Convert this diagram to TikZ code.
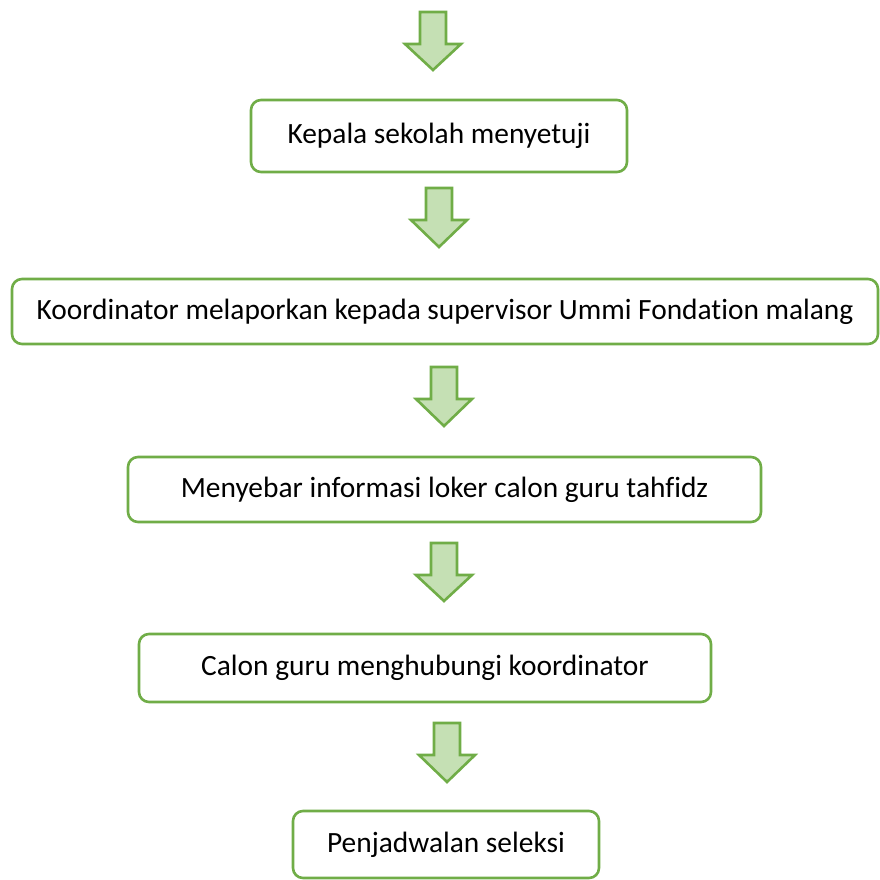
\documentclass[tikz,border=0pt]{standalone}
\usepackage{fontspec}
\setmainfont{Carlito}[Ligatures={NoCommon}]
\definecolor{gline}{HTML}{70AD47}
\definecolor{gfill}{HTML}{C5E0B4}
\newcommand{\blkarrow}[3]{%
  \draw[blockarrow] (#1-13,#2) -- (#1+13,#2) -- (#1+13,#2+32) -- (#1+28,#2+32)
    -- (#1,#3) -- (#1-28,#2+32) -- (#1-13,#2+32) -- cycle;}
\begin{document}
\begin{tikzpicture}[x=1pt,y=-1pt,
  box/.style={draw=gline,line width=2.6pt,rounded corners=10pt,fill=white,
    inner sep=0pt,font=\fontsize{29.4}{34}\selectfont,text=black},
  blockarrow/.style={draw=gline,fill=gfill,line width=2.6pt,line join=miter}]
\useasboundingbox (0,0) rectangle (880,880);
\fill[white] (0,0) rectangle (880,880);

\node[box,minimum width=376pt,minimum height=72pt] (b1) at (439,136) {Kepala sekolah menyetuji};
\node[box,minimum width=866pt,minimum height=65pt] (b2) at (445,311.5) {Koordinator melaporkan kepada supervisor Ummi Fondation malang};
\node[box,minimum width=633pt,minimum height=65pt] (b3) at (444.5,489.5) {Menyebar informasi loker calon guru tahfidz};
\node[box,minimum width=572pt,minimum height=68pt] (b4) at (425,668) {Calon guru menghubungi koordinator};
\node[box,minimum width=306pt,minimum height=67pt] (b5) at (446,844.5) {Penjadwalan seleksi};

\blkarrow{433}{12}{70}
\blkarrow{439}{188}{247}
\blkarrow{444}{367}{426}
\blkarrow{444}{543}{601}
\blkarrow{447}{723}{782}
\end{tikzpicture}
\end{document}
